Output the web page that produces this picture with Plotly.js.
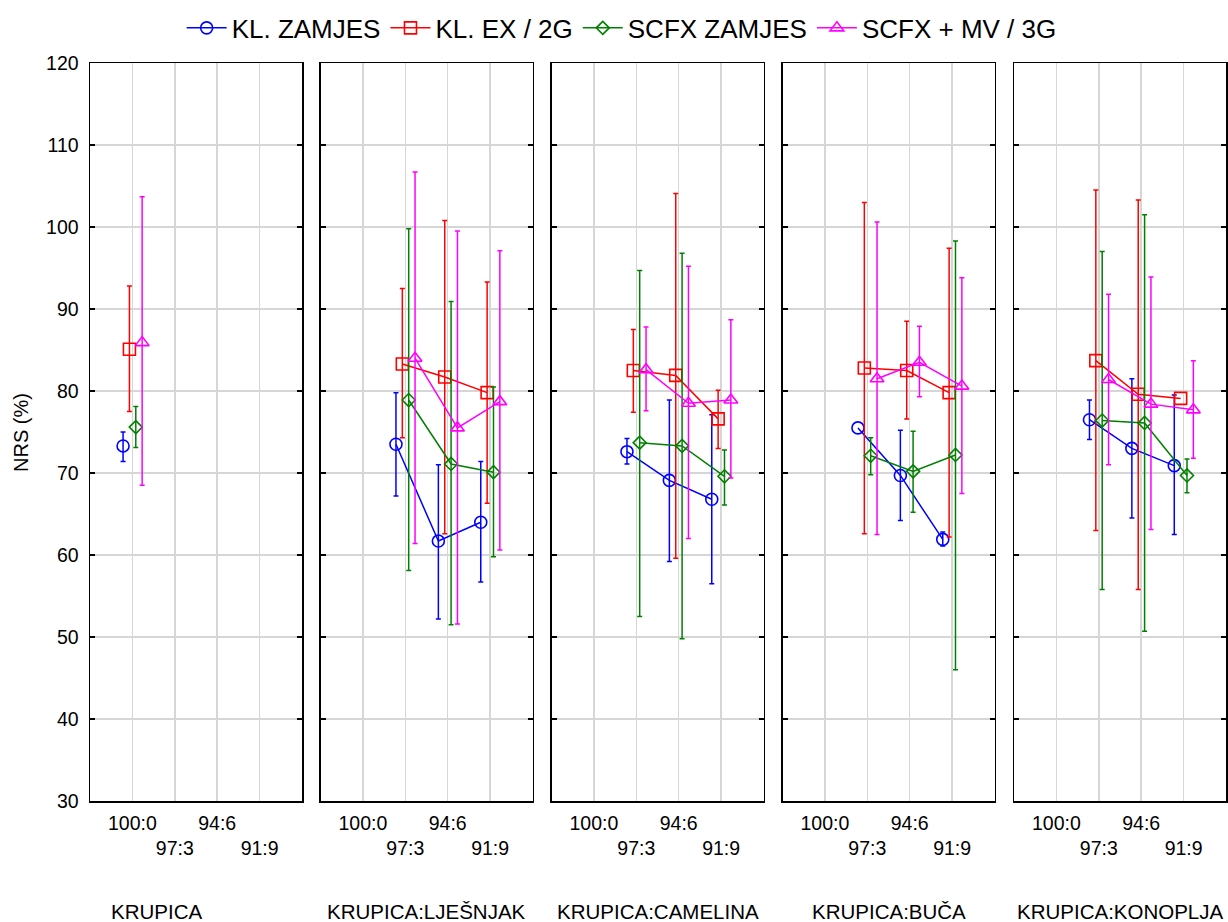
<!DOCTYPE html>
<html>
<head>
<meta charset="utf-8">
<script src="https://cdn.plot.ly/plotly-3.0.1.min.js"></script>
<style>html,body{margin:0;padding:0;background:#fff;}#chart{width:1228px;height:922px;}</style>
</head>
<body>
<div id="chart"></div>
<script>
// ---- data ----
const categories = ['100:0', '97:3', '94:6', '91:9'];
const tickLabels = ['100:0', '<br>97:3', '94:6', '<br>91:9'];
const panels = ['KRUPICA', 'KRUPICA:LJEŠNJAK', 'KRUPICA:CAMELINA', 'KRUPICA:BUČA', 'KRUPICA:KONOPLJA'];
const seriesNames = ['KL. ZAMJES', 'KL. EX / 2G', 'SCFX ZAMJES', 'SCFX + MV / 3G'];

// means per panel (rows) and category (columns)
const klZamjesMean = [[73.3, null, null, null], [null, 73.5, 61.7, 64.0], [null, 72.6, 69.1, 66.8], [null, 75.5, 69.7, 61.9], [null, 76.5, 73.0, 70.9]];
const klZamjesLow  = [[71.4, null, null, null], [null, 67.2, 52.2, 56.7], [null, 71.1, 59.2, 56.5], [null, null, 64.2, 61.1], [null, 74.1, 64.5, 62.5]];
const klZamjesHigh = [[75.0, null, null, null], [null, 79.8, 71.0, 71.4], [null, 74.2, 78.9, 77.1], [null, null, 75.2, 62.8], [null, 78.9, 81.5, 79.5]];

const klExMean = [[85.1, null, null, null], [null, 83.3, 81.7, 79.8], [null, 82.5, 81.9, 76.6], [null, 82.8, 82.5, 79.8], [null, 83.7, 79.6, 79.1]];
const klExLow  = [[77.5, null, null, null], [null, 74.3, 62.6, 66.3], [null, 77.4, 59.6, 73.0], [null, 62.6, 76.6, 62.2], [null, 63.0, 55.8, null]];
const klExHigh = [[92.8, null, null, null], [null, 92.5, 100.8, 93.3], [null, 87.5, 104.1, 80.1], [null, 103.0, 88.5, 97.4], [null, 104.5, 103.3, null]];

const scfxZamjesMean = [[75.6, null, null, null], [null, 78.9, 71.1, 70.1], [null, 73.7, 73.3, 69.6], [null, 72.1, 70.2, 72.2], [null, 76.4, 76.1, 69.7]];
const scfxZamjesLow  = [[73.1, null, null, null], [null, 58.1, 51.5, 59.8], [null, 52.5, 49.8, 66.1], [null, 69.8, 65.2, 46.0], [null, 55.8, 50.7, 67.6]];
const scfxZamjesHigh = [[78.1, null, null, null], [null, 99.8, 90.9, 80.5], [null, 94.7, 96.8, 72.8], [null, 74.3, 75.1, 98.3], [null, 97.0, 101.5, 71.7]];

const scfxMvMean = [[85.9, null, null, null], [null, 84.0, 75.5, 78.7], [null, 82.6, 78.5, 78.9], [null, 81.5, 83.5, 80.6], [null, 81.4, 78.4, 77.7]];
const scfxMvLow  = [[68.5, null, null, null], [null, 61.4, 51.6, 60.6], [null, 77.6, 62.0, 69.4], [null, 62.5, 79.3, 67.5], [null, 71.0, 63.1, 71.8]];
const scfxMvHigh = [[103.7, null, null, null], [null, 106.7, 99.5, 97.1], [null, 87.8, 95.2, 88.7], [null, 100.6, 87.9, 93.8], [null, 91.8, 93.9, 83.7]];

// ---- styling ----
const seriesData = [
  {mean: klZamjesMean, low: klZamjesLow, high: klZamjesHigh},
  {mean: klExMean, low: klExLow, high: klExHigh},
  {mean: scfxZamjesMean, low: scfxZamjesLow, high: scfxZamjesHigh},
  {mean: scfxMvMean, low: scfxMvLow, high: scfxMvHigh}
];
const colors = ['#0000ff', '#ff0000', '#008000', '#ff00ff'];
const symbols = ['circle-open', 'square-open', 'diamond-open', 'triangle-up-open'];
const sizes = [12, 12, 10, 12];
const offsets = [-0.22, -0.07, 0.08, 0.23];

const FONT = 'Liberation Sans, Arial, Helvetica, sans-serif';
const traces = [];
seriesData.forEach((s, si) => {
  panels.forEach((p, pi) => {
    const x = [], y = [], ep = [], em = [];
    categories.forEach((c, ci) => {
      x.push(ci + offsets[si]);
      const m = s.mean[pi][ci];
      y.push(m);
      const hi = s.high[pi][ci], lo = s.low[pi][ci];
      ep.push(m == null || hi == null ? NaN : hi - m);
      em.push(m == null || lo == null ? NaN : m - lo);
    });
    traces.push({
      type: 'scatter', mode: 'lines+markers',
      name: seriesNames[si], legendgroup: seriesNames[si], showlegend: pi === 0,
      x: x, y: y,
      xaxis: pi === 0 ? 'x' : 'x' + (pi + 1),
      yaxis: pi === 0 ? 'y' : 'y' + (pi + 1),
      line: {color: colors[si], width: 1.5},
      marker: {symbol: symbols[si], size: sizes[si], color: colors[si], line: {width: 1.6, color: colors[si]}},
      error_y: {type: 'data', symmetric: false, array: ep, arrayminus: em, color: colors[si], thickness: 1.5, width: 2.5},
      cliponaxis: false
    });
  });
});

const L = 90, R = 2, W = 1228 - L - R;
const panelStarts = [90, 320.5, 551.5, 782.5, 1014];
const panelWidth = 212;

const layout = {
  width: 1228, height: 922,
  margin: {l: L, r: R, t: 63, b: 121, pad: 0},
  paper_bgcolor: '#ffffff', plot_bgcolor: '#ffffff',
  font: {family: FONT, color: '#000', size: 20},
  showlegend: true,
  legend: {orientation: 'h', x: 0.468, xanchor: 'center', y: 1.0475, yanchor: 'middle',
           font: {size: 26, family: FONT}, itemwidth: 40, tracegroupgap: 12},
  annotations: [{
    text: 'NRS (%)', showarrow: false, textangle: -90,
    xref: 'paper', x: (21 - L) / W, xanchor: 'center',
    yref: 'paper', y: (801 - 433) / 738, yanchor: 'middle',
    font: {size: 20, family: FONT, color: '#000'}
  }]
};

panels.forEach((p, pi) => {
  const xs = pi === 0 ? 'xaxis' : 'xaxis' + (pi + 1);
  const ys = pi === 0 ? 'yaxis' : 'yaxis' + (pi + 1);
  const d0 = (panelStarts[pi] - L) / W, d1 = (panelStarts[pi] + panelWidth - L) / W;
  layout[xs] = {
    domain: [d0, d1], range: [-1, 4], anchor: pi === 0 ? 'y' : 'y' + (pi + 1),
    tickmode: 'array', tickvals: [0, 1, 2, 3], ticktext: tickLabels, tickangle: 0,
    showgrid: true, gridcolor: '#d6d6d6', gridwidth: 1.5, zeroline: false,
    showline: true, linecolor: '#000', linewidth: 1.5, mirror: true,
    ticks: '', tickfont: {size: 19.5, family: FONT, color: '#000'}, ticklabelstandoff: 4
  };
  layout[ys] = {
    domain: [0, 1], range: [30, 120], anchor: pi === 0 ? 'x' : 'x' + (pi + 1),
    tickmode: 'linear', tick0: 30, dtick: 10,
    showgrid: true, gridcolor: '#d6d6d6', gridwidth: 1.5, zeroline: false,
    showline: true, linecolor: '#000', linewidth: 1.5, mirror: 'ticks',
    ticks: 'inside', ticklen: 5, tickwidth: 1.5, tickcolor: '#000',
    showticklabels: pi === 0, tickfont: {size: 19.5, family: FONT, color: '#000'},
    ticklabelstandoff: 6
  };
  if (pi > 0) layout[ys].matches = 'y';
  layout.annotations.push({
    text: p, showarrow: false,
    xref: (pi === 0 ? 'x' : 'x' + (pi + 1)) + ' domain', x: pi === 0 ? 0.313 : 0.5, xanchor: 'center',
    yref: 'paper', y: (801 - 911) / 738, yanchor: 'middle',
    font: {size: 20.5, family: FONT, color: '#000'}
  });
});

Plotly.newPlot('chart', traces, layout, {displayModeBar: false, staticPlot: true});
</script>
</body>
</html>
